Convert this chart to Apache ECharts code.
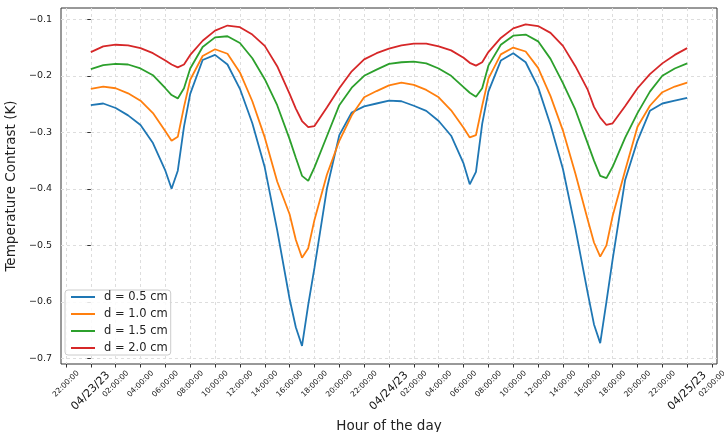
<!DOCTYPE html>
<html>
<head>
<meta charset="utf-8">
<script src="https://cdn.jsdelivr.net/npm/echarts@6/dist/echarts.min.js"></script>
<style>html,body{margin:0;padding:0;background:#fff}#c{width:724px;height:432px}</style>
</head>
<body>
<div id="c"></div>
<script>
// hours since 04/23/23 00:00
const hours = [0,1,2,3,4,5,6,6.5,7,7.5,8,9,10,11,12,13,14,15,16,16.5,17,17.5,18,19,20,21,22,23,24,25,26,27,28,29,30,30.5,31,31.5,32,33,34,35,36,37,38,39,40,40.5,41,41.5,42,43,44,45,46,47,48];
const d05 = [-0.252,-0.249,-0.257,-0.270,-0.287,-0.319,-0.368,-0.400,-0.368,-0.290,-0.232,-0.172,-0.163,-0.180,-0.223,-0.284,-0.362,-0.473,-0.595,-0.645,-0.678,-0.605,-0.540,-0.400,-0.305,-0.265,-0.254,-0.249,-0.244,-0.245,-0.253,-0.262,-0.280,-0.306,-0.355,-0.392,-0.370,-0.285,-0.228,-0.173,-0.160,-0.176,-0.220,-0.287,-0.365,-0.470,-0.585,-0.640,-0.673,-0.600,-0.525,-0.385,-0.315,-0.262,-0.249,-0.244,-0.239];
const d10 = [-0.223,-0.219,-0.222,-0.231,-0.244,-0.266,-0.298,-0.315,-0.308,-0.255,-0.207,-0.165,-0.153,-0.161,-0.194,-0.245,-0.309,-0.387,-0.445,-0.490,-0.522,-0.505,-0.455,-0.375,-0.315,-0.270,-0.238,-0.227,-0.217,-0.212,-0.216,-0.225,-0.238,-0.261,-0.292,-0.309,-0.305,-0.253,-0.205,-0.162,-0.150,-0.157,-0.186,-0.236,-0.297,-0.373,-0.455,-0.495,-0.520,-0.500,-0.448,-0.368,-0.290,-0.253,-0.229,-0.219,-0.212];
const d15 = [-0.188,-0.181,-0.179,-0.180,-0.187,-0.199,-0.222,-0.234,-0.240,-0.222,-0.187,-0.149,-0.132,-0.130,-0.142,-0.169,-0.206,-0.252,-0.312,-0.345,-0.377,-0.386,-0.362,-0.307,-0.252,-0.221,-0.200,-0.189,-0.179,-0.176,-0.175,-0.178,-0.187,-0.200,-0.220,-0.230,-0.237,-0.222,-0.182,-0.145,-0.129,-0.127,-0.139,-0.170,-0.213,-0.260,-0.320,-0.350,-0.377,-0.381,-0.361,-0.310,-0.266,-0.228,-0.200,-0.187,-0.178];
const d20 = [-0.158,-0.148,-0.145,-0.146,-0.151,-0.160,-0.173,-0.180,-0.185,-0.180,-0.163,-0.138,-0.120,-0.111,-0.114,-0.127,-0.147,-0.183,-0.232,-0.258,-0.280,-0.291,-0.289,-0.256,-0.222,-0.192,-0.171,-0.160,-0.152,-0.146,-0.143,-0.143,-0.148,-0.155,-0.168,-0.177,-0.182,-0.176,-0.158,-0.133,-0.116,-0.109,-0.112,-0.124,-0.147,-0.183,-0.225,-0.255,-0.274,-0.287,-0.284,-0.254,-0.222,-0.197,-0.178,-0.163,-0.151];
const seriesNames = ['d = 0.5 cm','d = 1.0 cm','d = 1.5 cm','d = 2.0 cm'];
const xTickValues = [-2,0,2,4,6,8,10,12,14,16,18,20,22,24,26,28,30,32,34,36,38,40,42,44,46,48,50];
const xTickLabels = ['22:00:00','04/23/23','02:00:00','04:00:00','06:00:00','08:00:00','10:00:00','12:00:00','14:00:00','16:00:00','18:00:00','20:00:00','22:00:00','04/24/23','02:00:00','04:00:00','06:00:00','08:00:00','10:00:00','12:00:00','14:00:00','16:00:00','18:00:00','20:00:00','22:00:00','04/25/23','02:00:00'];
const yTickValues = [-0.7,-0.6,-0.5,-0.4,-0.3,-0.2,-0.1];
const yTickLabels = ['\u22120.7','\u22120.6','\u22120.5','\u22120.4','\u22120.3','\u22120.2','\u22120.1'];

const colors = ['#1f77b4','#ff7f0e','#2ca02c','#d62728'];
const FONT = 'DejaVu Sans';
const allData = [d05,d10,d15,d20];

const chart = echarts.init(document.getElementById('c'), null, {renderer:'canvas'});
chart.setOption({
  animation:false,
  backgroundColor:'#fff',
  color: colors,
  textStyle:{fontFamily:FONT},
  grid:{left:61, top:8, width:656, height:356, outerBoundsMode:'none', containLabel:false,
        show:true, borderColor:'#333', borderWidth:1, backgroundColor:'transparent'},
  legend:{
    orient:'vertical', left:65, top:290,
    padding:[1,3,1,5], itemGap:5, itemWidth:24, itemHeight:12,
    itemStyle:{opacity:0},
    backgroundColor:'rgba(255,255,255,0.85)', borderColor:'#cccccc', borderWidth:1, borderRadius:3,
    textStyle:{fontFamily:FONT, fontSize:11.5, color:'#222', lineHeight:12, padding:[0,0,0,4]},
    data: seriesNames
  },
  xAxis:{
    type:'value', min:-2.4, max:50.4,
    name:'Hour of the day', nameLocation:'middle', nameGap:55, nameMoveOverlap:false,
    nameTextStyle:{fontFamily:FONT, fontSize:13.5, color:'#222'},
    axisLine:{show:false},
    axisTick:{show:true, length:3.5, lineStyle:{color:'#333'}, customValues:xTickValues},
    axisLabel:{
      customValues:xTickValues, rotate:45, margin:27, align:'center', verticalAlign:'middle', color:'#111',
      hideOverlap:false,
      formatter:function(v){
        const i = xTickValues.indexOf(Math.round(v));
        const s = xTickLabels[i];
        return s.indexOf('/')>=0 ? '{d|'+s+'}' : '{t|'+s+'}';
      },
      rich:{
        d:{fontFamily:FONT, fontSize:11, color:'#111'},
        t:{fontFamily:FONT, fontSize:7.5, color:'#111', padding:[0,0,10,10]}
      }
    },
    splitLine:{show:true, lineStyle:{color:'#dddddd', type:[3,3], width:1}}
  },
  yAxis:{
    type:'value', min:-0.71, max:-0.08,
    name:'Temperature Contrast (K)', nameLocation:'middle', nameGap:30,
    nameTextStyle:{fontFamily:FONT, fontSize:13.5, color:'#222'},
    axisLine:{show:false},
    axisTick:{show:true, length:3.5, lineStyle:{color:'#333'}, customValues:yTickValues},
    axisLabel:{
      customValues:yTickValues, margin:9, color:'#222', fontFamily:FONT, fontSize:9.5,
      formatter:function(v){ const i = yTickValues.findIndex(t=>Math.abs(t-v)<1e-6); return yTickLabels[i]; }
    },
    splitLine:{show:true, lineStyle:{color:'#dddddd', type:[3,3], width:1}}
  },
  series: allData.map((arr,k)=>({
    name: seriesNames[k], type:'line', symbol:'none', smooth:false,
    lineStyle:{width:1.8, color:colors[k]},
    itemStyle:{color:colors[k]},
    data: hours.map((h,i)=>[h, arr[i]])
  }))
});
</script>
</body>
</html>
